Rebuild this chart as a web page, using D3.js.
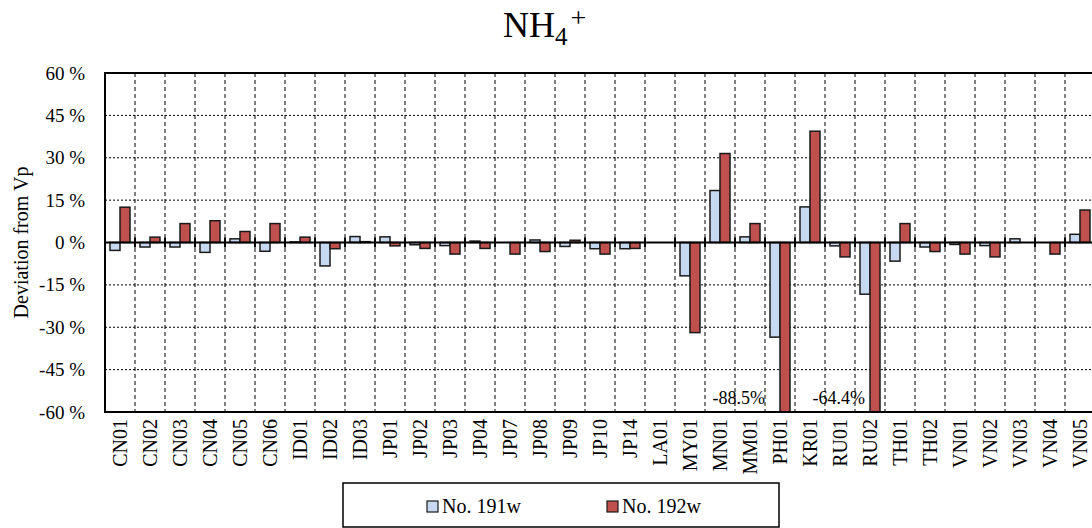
<!DOCTYPE html>
<html>
<head>
<meta charset="utf-8">
<script src="https://cdn.jsdelivr.net/npm/d3@7"></script>
<style>
  body { margin: 0; background: #fff; }
  text { font-family: "Liberation Serif", "Times New Roman", serif; fill: #000; }
</style>
</head>
<body>
<div id="chart"></div>
<script>
const sites = ["CN01", "CN02", "CN03", "CN04", "CN05", "CN06", "ID01", "ID02", "ID03",
  "JP01", "JP02", "JP03", "JP04", "JP07", "JP08", "JP09", "JP10", "JP14", "LA01",
  "MY01", "MN01", "MM01", "PH01", "KR01", "RU01", "RU02", "TH01", "TH02",
  "VN01", "VN02", "VN03", "VN04", "VN05"];

// deviation from prepared value, %
const no191w = [-2.8, -1.6, -1.6, -3.5, 1.3, -3.1, 0.2, -8.3, 2.1,
  2.0, -0.8, -1.1, 0.5, 0, 0.9, -1.4, -2.2, -2.2, null,
  -11.8, 18.4, 2.0, -33.5, 12.6, -1.2, -18.3, -6.6, -1.6,
  -0.7, -1.1, 1.3, 0, 2.9];
const no192w = [12.5, 1.9, 6.7, 7.7, 3.9, 6.7, 1.9, -2.2, 0.3,
  -1.2, -2.1, -4.1, -2.1, -4.1, -3.2, 0.8, -4.1, -2.1, null,
  -31.9, 31.5, 6.7, -88.5, 39.4, -5.1, -64.4, 6.7, -3.2,
  -4.1, -5.1, 0, -4.1, 11.5];

const yTicks = [60, 45, 30, 15, 0, -15, -30, -45, -60];
const seriesNames = ["No. 191w", "No. 192w"];
const seriesColors = ["#c6d9f1", "#c0504d"];
// values beyond the axis get a text note
const offScale = [
  {site: "PH01", label: "-88.5%", dx: 0},
  {site: "RU02", label: "-64.4%", dx: 10}
];

const width = 1092, height = 528;
const margin = {top: 73, right: -3, bottom: 116, left: 105};
const plotW = width - margin.left - margin.right;
const plotH = height - margin.top - margin.bottom;

const svg = d3.select("#chart").append("svg")
  .attr("width", width)
  .attr("height", height);

// title NH4+
const title = svg.append("text")
  .attr("x", 503)
  .attr("y", 37)
  .style("font-size", "36px");
title.append("tspan").text("NH");
title.append("tspan").attr("dy", 8).style("font-size", "25px").text("4");
title.append("tspan").attr("dy", -18).attr("dx", 3).style("font-size", "28px").text("+");

const g = svg.append("g")
  .attr("transform", "translate(" + margin.left + "," + margin.top + ")");

const x = d3.scaleBand().domain(sites).range([0, plotW]).padding(0);
const xs = d3.scaleBand().domain([0, 1]).range([0, x.bandwidth()]).paddingInner(0).paddingOuter(0.5);
const y = d3.scaleLinear().domain([-60, 60]).range([plotH, 0]);

g.append("clipPath").attr("id", "plotClip")
  .append("rect").attr("width", plotW).attr("height", plotH);

// horizontal grid
g.append("g")
  .selectAll("line")
  .data(yTicks.filter(d => d !== 0 && Math.abs(d) !== 60))
  .join("line")
  .attr("x1", 0).attr("x2", plotW)
  .attr("y1", d => y(d)).attr("y2", d => y(d))
  .attr("stroke", "#000")
  .attr("stroke-width", 1)
  .attr("stroke-dasharray", "2,2");

// vertical grid between sites
g.append("g")
  .selectAll("line")
  .data(sites.slice(1))
  .join("line")
  .attr("x1", d => x(d)).attr("x2", d => x(d))
  .attr("y1", 0).attr("y2", plotH)
  .attr("stroke", "#000")
  .attr("stroke-width", 1)
  .attr("stroke-dasharray", "4,3");

// bars
const series = [no191w, no192w];
const bars = g.append("g").attr("clip-path", "url(#plotClip)");
series.forEach((vals, si) => {
  bars.append("g")
    .selectAll("rect")
    .data(sites.map((s, i) => ({site: s, v: vals[i]})).filter(d => d.v !== null && d.v !== 0))
    .join("rect")
    .attr("x", d => x(d.site) + xs(si))
    .attr("width", xs.bandwidth())
    .attr("y", d => y(Math.max(0, d.v)))
    .attr("height", d => Math.abs(y(d.v) - y(0)))
    .attr("fill", seriesColors[si])
    .attr("stroke", "#1a1a1a")
    .attr("stroke-width", 1.5);
});

// zero line with crossing ticks
g.append("line")
  .attr("x1", 0).attr("x2", plotW)
  .attr("y1", y(0)).attr("y2", y(0))
  .attr("stroke", "#000").attr("stroke-width", 2);
g.append("g")
  .selectAll("line")
  .data(sites.slice(1))
  .join("line")
  .attr("x1", d => x(d)).attr("x2", d => x(d))
  .attr("y1", y(0) - 5).attr("y2", y(0) + 5)
  .attr("stroke", "#000").attr("stroke-width", 2);

// frame
g.append("rect")
  .attr("width", plotW).attr("height", plotH)
  .attr("fill", "none")
  .attr("stroke", "#000").attr("stroke-width", 2);

// y axis labels
const yAxis = d3.axisLeft(y).tickValues(yTicks).tickSize(0).tickPadding(20)
  .tickFormat(d => d + " %");
g.append("g").call(yAxis)
  .call(a => a.select(".domain").remove())
  .selectAll("text")
  .style("font-size", "19px")
  .style("font-family", "'Liberation Serif', serif");

svg.append("text")
  .attr("transform", "translate(28," + (margin.top + y(0)) + ") rotate(-90)")
  .attr("text-anchor", "middle")
  .style("font-size", "20px")
  .text("Deviation from Vp");

// x axis labels
const xAxis = d3.axisBottom(x).tickSize(0).tickPadding(0);
g.append("g")
  .attr("transform", "translate(0," + plotH + ")")
  .call(xAxis)
  .call(a => a.select(".domain").remove())
  .selectAll("text")
  .attr("transform", "rotate(-90)")
  .attr("x", -7)
  .attr("y", 0)
  .attr("dy", "0.33em")
  .attr("text-anchor", "end")
  .style("font-size", "20px")
  .style("font-family", "'Liberation Serif', serif");

// notes for bars beyond the axis
g.append("g")
  .selectAll("text")
  .data(offScale)
  .join("text")
  .attr("x", d => x(d.site) + d.dx)
  .attr("y", plotH - 8)
  .attr("text-anchor", "end")
  .style("font-size", "18px")
  .text(d => d.label);

// legend
const legend = svg.append("g").attr("transform", "translate(343,483)");
legend.append("rect")
  .attr("width", 436).attr("height", 44)
  .attr("fill", "#fff").attr("stroke", "#000").attr("stroke-width", 1.5);
const item = legend.selectAll("g.item")
  .data(seriesNames)
  .join("g")
  .attr("class", "item")
  .attr("transform", (d, i) => "translate(" + (84 + i * 180) + ",18)");
item.append("rect")
  .attr("width", 11).attr("height", 11)
  .attr("fill", (d, i) => seriesColors[i])
  .attr("stroke", "#1a1a1a").attr("stroke-width", 1.2);
item.append("text")
  .attr("x", 15).attr("y", 12)
  .style("font-size", "20px")
  .text(d => d);
</script>
</body>
</html>
